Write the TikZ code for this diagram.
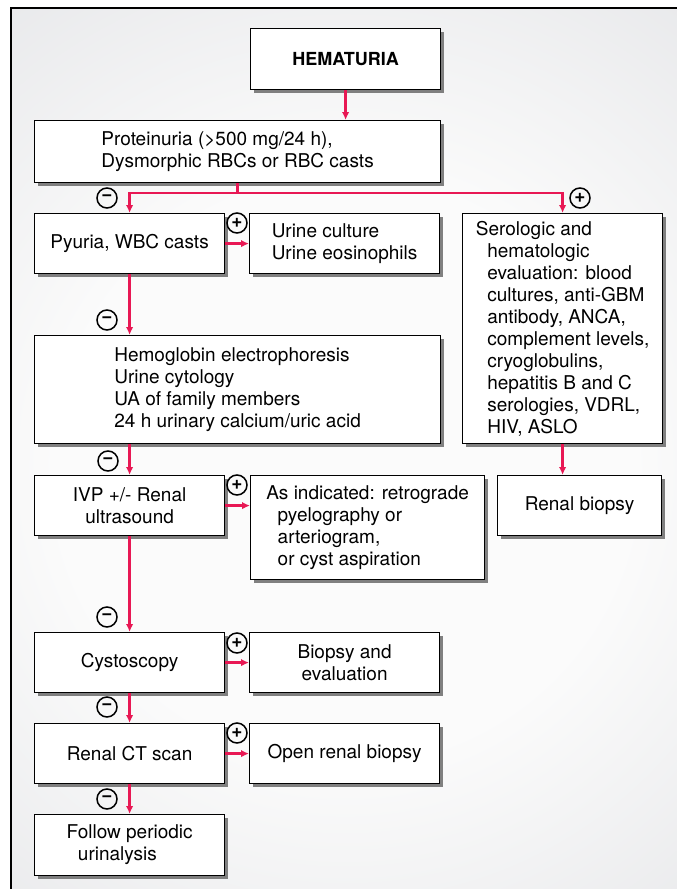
\documentclass[tikz,border=0pt]{standalone}
\usepackage{fontspec}
\setmainfont{TeX Gyre Heros}
\usepackage{tikz}
\usetikzlibrary{arrows.meta,shadows,positioning}
\definecolor{flowred}{RGB}{232,24,84}
\definecolor{panelgrey}{RGB}{224,225,228}
\definecolor{glowwhite}{RGB}{251,251,251}
\pgfdeclareradialshading{glow}{\pgfpoint{0bp}{0bp}}{%
  color(0bp)=(glowwhite); color(10bp)=(glowwhite);
  color(25bp)=(panelgrey); color(50bp)=(panelgrey)}
\tikzset{
  >={Latex[length=8pt,width=7.5pt]},
  flow/.style={->, line width=2.3pt, draw=flowred},
  box/.style={
    draw=black,
    line width=1.2pt,
    fill=white,
    align=center,
    inner sep=3pt,
    anchor=north west,
    drop shadow={shadow xshift=3pt, shadow yshift=-3pt, fill=black!55, opacity=.9},
    font=\fontsize{19}{22}\selectfont
  },
  sidebox/.style={box, minimum width=190pt, minimum height=60pt},
  sign/.style={
    circle,
    draw=black,
    line width=1.5pt,
    minimum size=20pt,
    inner sep=0pt,
    font=\fontsize{19}{19}\selectfont\bfseries
  }
}

\begin{document}
\begin{tikzpicture}[x=1pt,y=-1pt]
  \useasboundingbox (0,0) rectangle (677,889);
  \fill[white] (0,0) rectangle (677,889);
  % panel with soft glow
  \fill[panelgrey] (11,8) rectangle (677,889);
  \begin{scope}
    \clip (11,8) rectangle (677,889);
    \shade[shading=glow] (345,470) circle[radius=720pt];
  \end{scope}
  \draw[line width=1.8pt] (11,889) |- (677,8);

  % boxes
  \node[box,minimum width=190pt,minimum height=61pt,font=\fontsize{18}{22}\selectfont\bfseries] (hematuria) at (250,28) {HEMATURIA};
  \node[box,align=left,minimum width=406pt,minimum height=62pt] (protein) at (34,120) {Proteinuria (>500 mg/24 h),\\Dysmorphic RBCs or RBC casts};
  \node[sidebox] (pyuria) at (34,213) {Pyuria, WBC casts};
  \node[sidebox,align=left] (urine) at (249,213) {Urine culture\\Urine eosinophils};
  \node[box,align=left,minimum width=200pt,minimum height=230pt] (sero) at (462,213) {Serologic and\\
    \hspace*{0.6em}hematologic\\
    \hspace*{0.6em}evaluation: blood\\
    \hspace*{0.6em}cultures, anti-GBM\\
    \hspace*{0.6em}antibody, ANCA,\\
    \hspace*{0.6em}complement levels,\\
    \hspace*{0.6em}cryoglobulins,\\
    \hspace*{0.6em}hepatitis B and C\\
    \hspace*{0.6em}serologies, VDRL,\\
    \hspace*{0.6em}HIV, ASLO};
  \node[box,align=left,minimum width=406pt,minimum height=108pt] (hemo) at (34,335) {Hemoglobin electrophoresis\\Urine cytology\\UA of family members\\24 h urinary calcium/uric acid};
  \node[sidebox] (ivp) at (34,475) {IVP +/- Renal\\ultrasound};
  \node[box,align=left,minimum width=234pt,minimum height=104pt] (indicated) at (250,475) {As indicated: retrograde\\
    \hspace*{0.6em}pyelography or\\
    \hspace*{0.6em}arteriogram,\\
    \hspace*{0.6em}or cyst aspiration};
  \node[box,minimum width=164pt,minimum height=60pt] (renalbx) at (497,475) {Renal biopsy};
  \node[sidebox] (cysto) at (34,632) {Cystoscopy};
  \node[sidebox] (biopsy) at (249,632) {Biopsy and\\evaluation};
  \node[sidebox] (ct) at (34,723) {Renal CT scan};
  \node[sidebox] (openbx) at (249,723) {Open renal biopsy};
  \node[sidebox,align=left,minimum height=61pt] (follow) at (34,814) {Follow periodic\\\hspace*{0.6em}urinalysis};

  % connectors
  \draw[flow] (hematuria.south) -- (hematuria.south |- protein.north);
  \path (protein.south) ++(0,10) coordinate (split);
  \draw[flowred,line width=2.3pt] (protein.south) -- (split);
  \draw[flow] (split) -| (pyuria.north);
  \draw[flow] (split) -| (sero.north);
  \draw[flow] (pyuria.east) -- (urine.west);
  \draw[flow] (pyuria.south) -- (pyuria.south |- hemo.north);
  \draw[flow] (hemo.south -| ivp) -- (ivp.north);
  \draw[flow] (ivp.east) -- (ivp.east -| indicated.west);
  \draw[flow] (sero.south) -- (sero.south |- renalbx.north);
  \draw[flow] (ivp) -- (cysto);
  \draw[flow] (cysto) -- (biopsy);
  \draw[flow] (cysto) -- (ct);
  \draw[flow] (ct) -- (openbx);
  \draw[flow] (ct) -- (follow);

  % outcome signs
  \foreach \x/\y/\s [count=\i] in {107/198/−,580/198/+,237/223/+,107/320/−,108/461/−,237/485/+,
      107/617/−,237/643/+,107/707/−,237/733/+,107/799/−}
    \node[sign] (sign\i) at (\x,\y) {\s};
\end{tikzpicture}
\end{document}
